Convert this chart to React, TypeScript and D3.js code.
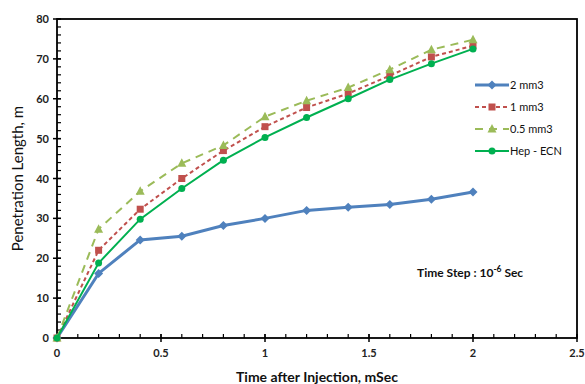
import React from "react";
import * as d3 from "d3";

const times = [0, 0.2, 0.4, 0.6, 0.8, 1.0, 1.2, 1.4, 1.6, 1.8, 2.0];
const vol2 = [0, 16.2, 24.6, 25.5, 28.2, 30.0, 32.0, 32.8, 33.5, 34.8, 36.6];
const vol1 = [0, 22.0, 32.3, 40.0, 47.0, 53.0, 57.8, 61.3, 65.8, 70.5, 73.3];
const vol05 = [0, 27.3, 36.8, 43.8, 48.3, 55.5, 59.5, 62.8, 67.3, 72.3, 74.8];
const hepEcn = [0, 18.8, 29.8, 37.5, 44.6, 50.3, 55.3, 60.0, 64.8, 68.8, 72.5];
const xTicks = [0, 0.5, 1, 1.5, 2, 2.5];
const yTicks = [0, 10, 20, 30, 40, 50, 60, 70, 80];

type Series = {
  name: string;
  values: number[];
  color: string;
  width: number;
  dash: string;
  marker: "diamond" | "square" | "triangle" | "circle";
};

const series: Series[] = [
  { name: "2 mm3", values: vol2, color: "#4F81BD", width: 3, dash: "", marker: "diamond" },
  { name: "1 mm3", values: vol1, color: "#C0504D", width: 2, dash: "4,3", marker: "square" },
  { name: "0.5 mm3", values: vol05, color: "#9BBB59", width: 2, dash: "8,6", marker: "triangle" },
  { name: "Hep - ECN", values: hepEcn, color: "#00B050", width: 2, dash: "", marker: "circle" },
];

const left = 57;
const right = 577;
const top = 19;
const bottom = 338;

const x = d3.scaleLinear().domain([0, 2.5]).range([left, right]);
const y = d3.scaleLinear().domain([0, 80]).range([bottom, top]);

const font = "Lato, 'Open Sans', sans-serif";

function Marker({ kind, cx, cy, color }: { kind: Series["marker"]; cx: number; cy: number; color: string }) {
  if (kind === "diamond") {
    const s = 4.5;
    return <path d={`M${cx},${cy - s}L${cx + s},${cy}L${cx},${cy + s}L${cx - s},${cy}Z`} fill={color} />;
  }
  if (kind === "square") {
    return <rect x={cx - 3.5} y={cy - 3.5} width={7} height={7} fill={color} />;
  }
  if (kind === "triangle") {
    return <path d={`M${cx},${cy - 5}L${cx + 4.5},${cy + 3.5}L${cx - 4.5},${cy + 3.5}Z`} fill={color} />;
  }
  return <circle cx={cx} cy={cy} r={3.5} fill={color} />;
}

export default function App() {
  const line = d3
    .line<number>()
    .x((_, i) => x(times[i]))
    .y((d) => y(d));

  const xMinor = d3.range(0, 2.5001, 0.1);
  const yMinor = d3.range(0, 80.001, 2);

  return (
    <svg width={585} height={384} style={{ position: "absolute", left: 0, top: 0 }} fontFamily={font}>
      <rect width={585} height={384} fill="#fff" />
      {/* minor ticks, inside */}
      {xMinor.map((t, i) => (
        <line key={"xm" + i} x1={x(t)} x2={x(t)} y1={bottom} y2={bottom - 4} stroke="#000" strokeWidth={1.2} />
      ))}
      {yMinor.map((t, i) => (
        <line key={"ym" + i} x1={left} x2={left + 4} y1={y(t)} y2={y(t)} stroke="#000" strokeWidth={1.2} />
      ))}
      {/* major ticks, crossing */}
      {xTicks.map((t) => (
        <line key={"xM" + t} x1={x(t)} x2={x(t)} y1={bottom + 4} y2={bottom - 4} stroke="#000" strokeWidth={1.5} />
      ))}
      {yTicks.map((t) => (
        <line key={"yM" + t} x1={left - 4} x2={left + 4} y1={y(t)} y2={y(t)} stroke="#000" strokeWidth={1.5} />
      ))}
      {/* plot frame */}
      <rect x={left} y={top} width={right - left} height={bottom - top} fill="none" stroke="#000" strokeWidth={1.8} />

      {/* tick labels */}
      {xTicks.map((t) => (
        <text key={"xl" + t} x={x(t)} y={bottom + 19} textAnchor="middle" fontSize={11} fontWeight="bold" fill="#222">
          {String(t)}
        </text>
      ))}
      {yTicks.map((t) => (
        <text key={"yl" + t} x={left - 8} y={y(t) + 4} textAnchor="end" fontSize={11} fontWeight="bold" fill="#222">
          {String(t)}
        </text>
      ))}

      {/* axis titles */}
      <text x={x(1.25)} y={382} textAnchor="middle" fontSize={14} fontWeight="bold" fill="#111">
        Time after Injection, mSec
      </text>
      <text
        transform={`translate(23,${(top + bottom) / 2}) rotate(-90)`}
        textAnchor="middle"
        fontSize={15}
        fill="#111"
      >
        Penetration Length, m
      </text>

      {/* series */}
      {series.map((s) => (
        <g key={s.name}>
          <path d={line(s.values) || ""} fill="none" stroke={s.color} strokeWidth={s.width} strokeDasharray={s.dash} />
          {s.values.map((v, i) => (
            <Marker key={i} kind={s.marker} cx={x(times[i])} cy={y(v)} color={s.color} />
          ))}
        </g>
      ))}

      {/* legend */}
      {series.map((s, i) => {
        const ly = 85 + i * 22;
        return (
          <g key={"lg" + s.name}>
            <line x1={475} x2={509} y1={ly} y2={ly} stroke={s.color} strokeWidth={s.width} strokeDasharray={s.dash} />
            <Marker kind={s.marker} cx={492} cy={ly} color={s.color} />
            <text x={510} y={ly + 4} fontSize={11} fill="#111">
              {s.name}
            </text>
          </g>
        );
      })}

      {/* annotation */}
      <text x={417} y={277} fontSize={12} fontWeight="bold" fill="#111">
        Time Step : 10
        <tspan dy={-5} fontSize={8.5}>-6</tspan>
        <tspan dy={5}> Sec</tspan>
      </text>
    </svg>
  );
}
